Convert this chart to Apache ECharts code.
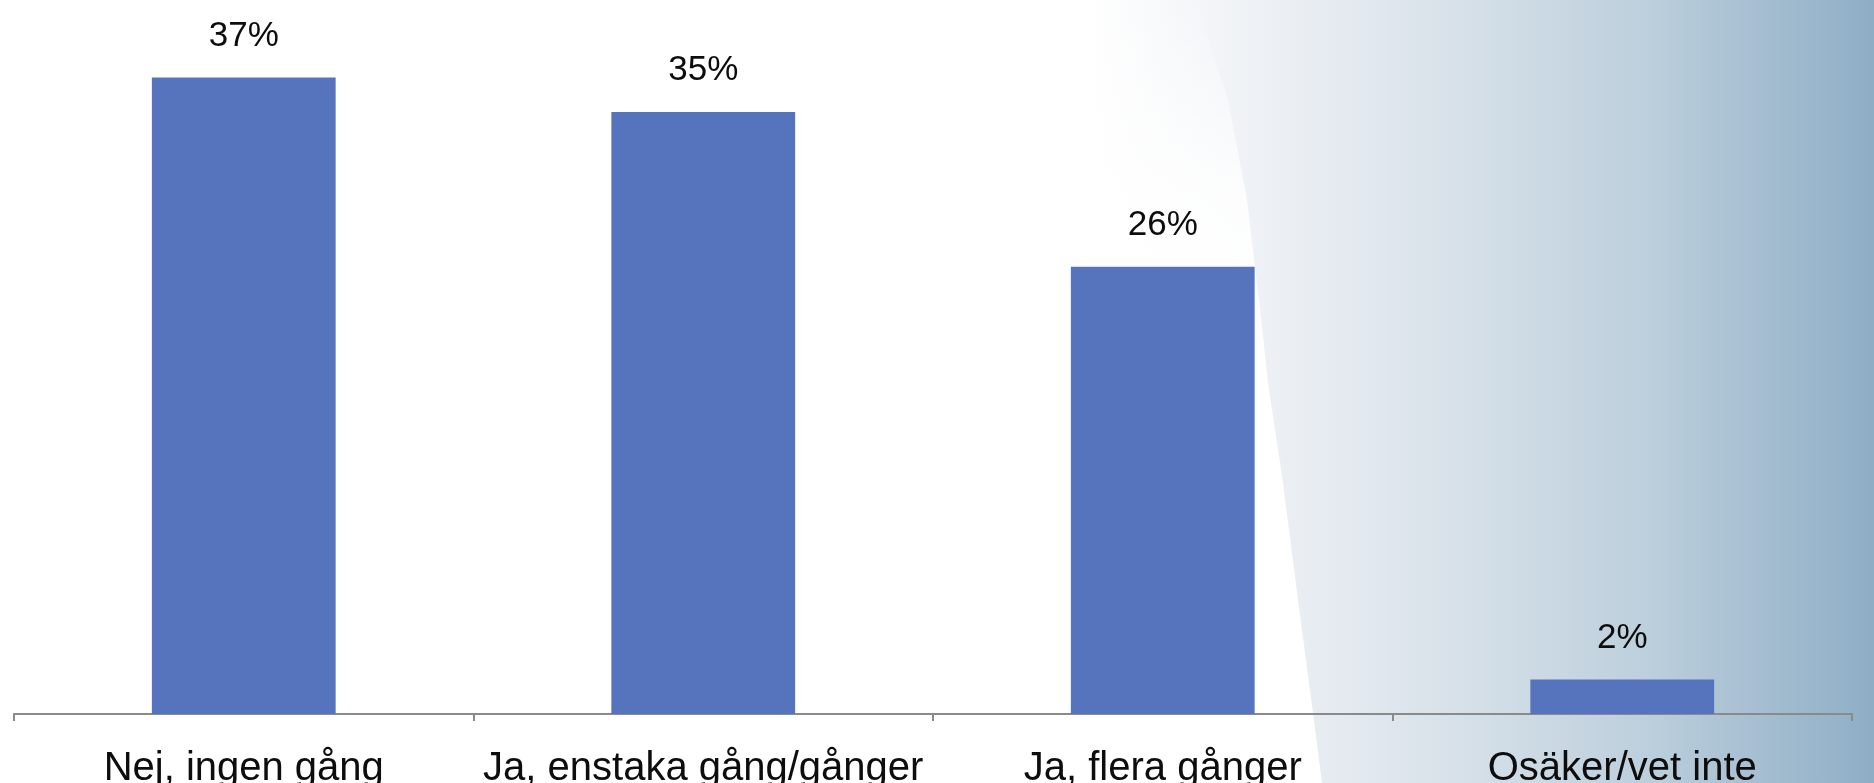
<!DOCTYPE html>
<html>
<head>
<meta charset="utf-8">
<script src="https://cdn.jsdelivr.net/npm/echarts@6/dist/echarts.min.js"></script>
<style>
html,body{margin:0;padding:0;background:#fff;overflow:hidden;}
#chart{width:1874px;height:783px;}
</style>
</head>
<body>
<div id="chart"></div>
<script>
const categories = ['Nej, ingen gång', 'Ja, enstaka gång/gånger', 'Ja, flera gånger', 'Osäker/vet inte'];
const values = [37, 35, 26, 2];

const chart = echarts.init(document.getElementById('chart'));
const option = {
  backgroundColor: '#ffffff',
  animation: false,
  graphic: [
    {
      type: 'rect', z: -10, silent: true,
      shape: { x: 0, y: 0, width: 1874, height: 783 },
      style: {
        fill: new echarts.graphic.LinearGradient(0, 0, 1, 0, [
          { offset: 0, color: '#ffffff' },
          { offset: 0.58, color: '#ffffff' },
          { offset: 0.67, color: '#eef1f5' },
          { offset: 0.77, color: '#d9e2ea' },
          { offset: 0.88, color: '#bccfdc' },
          { offset: 0.94, color: '#a5bed1' },
          { offset: 1, color: '#8eaec6' }
        ])
      }
    },
    {
      type: 'polygon', z: -9, silent: true, smooth: 0.3,
      shape: { points: [[0, 0], [1195, 0], [1228, 100], [1247, 200], [1259, 300], [1268, 383], [1283, 483], [1298, 600], [1313, 713], [1322, 783], [0, 783]] },
      style: {
        fill: new echarts.graphic.LinearGradient(0, 0, 0, 1, [
          { offset: 0, color: 'rgba(255,255,255,0)' },
          { offset: 0.25, color: 'rgba(255,255,255,0.85)' },
          { offset: 0.45, color: 'rgba(255,255,255,1)' },
          { offset: 1, color: 'rgba(255,255,255,1)' }
        ])
      }
    }
  ],
  grid: { left: 14, right: 22, top: 26, bottom: 69, containLabel: false, outerBoundsMode: 'none' },
  xAxis: {
    type: 'category',
    data: categories,
    axisLine: { show: true, lineStyle: { color: '#8a8a8a', width: 2 } },
    axisTick: { show: true, length: 7, lineStyle: { color: '#8a8a8a', width: 2 } },
    axisLabel: {
      color: '#0d0d0d',
      fontSize: 40,
      fontFamily: 'Liberation Sans, Arial, sans-serif',
      margin: 35,
      interval: 0,
      hideOverlap: false
    }
  },
  yAxis: {
    type: 'value', min: 0, max: 40, show: false,
    splitLine: { show: false }
  },
  series: [{
    type: 'bar',
    data: values,
    barWidth: '40%',
    itemStyle: { color: '#5574bd' },
    label: {
      show: true,
      position: 'top',
      distance: 24,
      formatter: '{c}%',
      color: '#0d0d0d',
      fontSize: 35,
      fontFamily: 'Liberation Sans, Arial, sans-serif'
    }
  }]
};
chart.setOption(option);
</script>
</body>
</html>
